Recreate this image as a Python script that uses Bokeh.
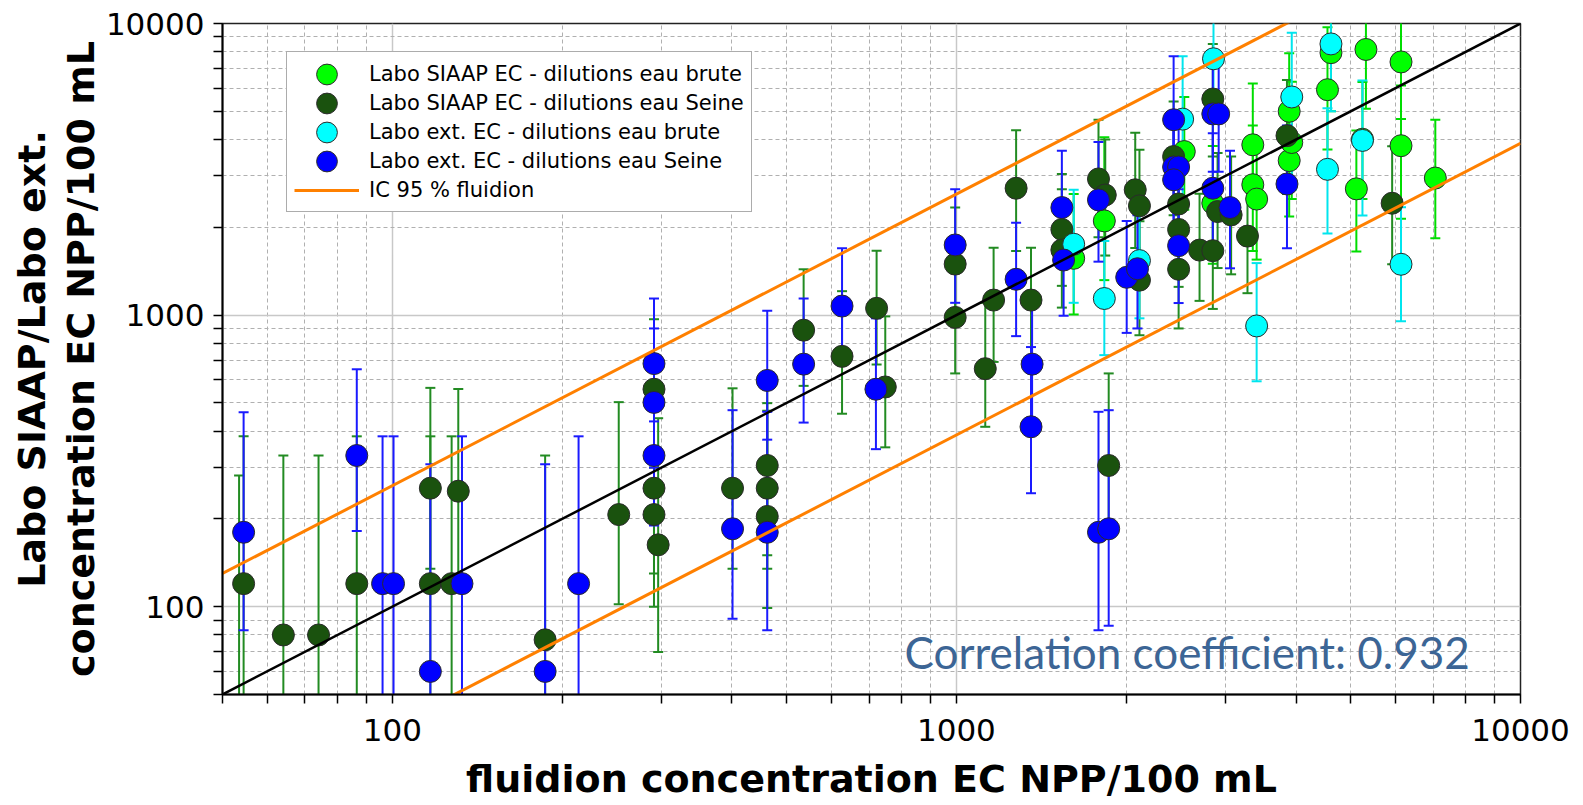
import numpy as np
from bokeh.plotting import figure
from bokeh.models import (ColumnDataSource, Legend, LegendItem, Label, Title,
                          NumeralTickFormatter, FixedTicker)
from bokeh.embed import file_html
from bokeh.resources import INLINE

# ---------------- data ----------------
series_names = [
    "Labo SIAAP EC - dilutions eau brute",
    "Labo SIAAP EC - dilutions eau Seine",
    "Labo ext. EC - dilutions eau brute",
    "Labo ext. EC - dilutions eau Seine",
]
ic_label = "IC 95 % fluidion"
corr_text = "Correlation coefficient: 0.932"
x_title = "fluidion concentration EC NPP/100 mL"
y_title_1 = "Labo SIAAP/Labo ext."
y_title_2 = "concentration EC NPP/100 mL"

# SIAAP - eau brute (light green)
lg_x = [1614, 1829, 2535, 2848, 3353, 3353, 3406, 3890, 3890, 3931, 4613, 4548, 5321, 5117, 5246, 6140, 6140, 7063]
lg_y = [1566, 2104, 3638, 2419, 3837, 2800, 2500, 5000, 3388, 3908, 7943, 5929, 8147, 2710, 4010, 7383, 3810, 2951]
lg_lo = [1005, 1318, 2300, 1500, 2400, 1660, 1550, 3200, 2180, 2500, 5000, 3700, 5100, 1652, 2500, 4700, 2140, 1833]
lg_hi = [2600, 4074, 5600, 3800, 6226, 4467, 3900, 7900, 5300, 6318, 12500, 9700, 13000, 4296, 6300, 11500, 6130, 4677]

# SIAAP - eau Seine (dark green)
dg_x = [53.5, 54.5, 64.1, 74, 86.5, 116.8, 116.8, 130.9, 127.4, 186.6,
        252, 291, 291, 291, 296, 401, 462, 462, 462, 536,
        627, 722, 748, 995, 995, 1125, 1276, 1164, 1356, 1538,
        1538, 1786, 1836, 1862, 2075, 2111, 2111, 2427, 2477, 2477,
        2477, 2698, 2848, 2904, 2848, 3069, 3281, 3855, 5922]
dg_y = [40, 120, 80, 80, 120, 255, 120, 249, 120, 77,
        207, 557, 255, 207, 163, 255, 305, 255, 204, 888,
        722, 1055, 567, 1496, 982, 655, 2723, 1126, 1126, 1967,
        1671, 2931, 2582, 305, 2690, 2370, 1318, 3497, 2405, 1967,
        1436, 1671, 5508, 2265, 1663, 2207, 1866, 4125, 2419]
dg_lo = [15, 25, 20, 20, 25, 135, 25, 115, 25, 20,
         102, 300, 130, 100, 70, 135, 150, 135, 99, 572,
         459, 677, 352, 1000, 631, 414, 1660, 691, 691, 1260,
         1061, 1850, 1600, 173, 1700, 1500, 853, 2200, 1500, 1250,
         900, 1119, 3500, 1450, 1050, 1380, 1189, 2600, 1494]
dg_hi = [282, 384, 330, 330, 384, 563, 384, 558, 384, 330,
         503, 968, 560, 500, 443, 561, 600, 499, 470, 1436,
         1208, 1663, 990, 2338, 1500, 1102, 4305, 1702, 1702, 3048,
         2700, 4677, 4000, 631, 4219, 3690, 2100, 5400, 3800, 3100,
         2300, 2605, 8500, 3600, 2600, 3500, 2924, 6400, 3790]

# ext - eau brute (cyan)
cy_x = [1614, 1829, 2111, 2518, 2856, 3406, 3931, 4613, 4548, 5246, 6140]
cy_y = [1750, 1140, 1538, 4700, 7568, 918, 5598, 8511, 3162, 3972, 1494]
cy_lo = [1102, 729, 975, 2484, 4700, 593, 2692, 5000, 1905, 2197, 953]
cy_hi = [2692, 1795, 2370, 7727, 15000, 1508, 9290, 15000, 5118, 6374, 2345]

# ext - eau Seine (blue)
bl_x = [54.5, 86.5, 96.1, 100.5, 116.8, 132.9, 186.6, 213.9,
        291, 291, 291, 401, 462, 462, 536, 627, 720, 995,
        1276, 1362, 1356, 1538, 1549, 1786, 1786, 1862, 2004, 2094,
        2427, 2427, 2477, 2427, 2477, 2848, 2917, 2848, 3055, 3855]
bl_y = [180, 330, 120, 120, 60, 120, 60, 120,
        682, 502, 330, 185, 597, 180, 679, 1074, 557, 1740,
        1327, 679, 414, 2338, 1545, 2484, 180, 185, 1348, 1442,
        4677, 3221, 3221, 2911, 1730, 4898, 4898, 2723, 2338, 2816]
bl_lo = [83, 182, 25, 25, 15, 25, 15, 25,
         432, 300, 190, 91, 374, 83, 428, 687, 347, 1102,
         847, 428, 245, 1500, 995, 1525, 83, 86, 869, 900,
         2900, 2000, 2000, 1800, 1100, 3100, 3100, 1700, 1447, 1694]
bl_hi = [464, 652, 384, 384, 308, 384, 308, 384,
         1140, 900, 650, 472, 1035, 466, 1140, 1694, 975, 2704,
         2075, 1140, 777, 3661, 2500, 3925, 466, 472, 2104, 2200,
         7727, 5000, 5000, 4500, 2700, 7700, 7700, 4200, 3661, 4467]

# reference line y = x and fluidion 95 % interval
ref_x = [50, 10000]
ref_y = [50, 10000]
ic_x = [50, 10000]
ic_upper = [130, 26000]
ic_lower = [19.4, 3880]

major_ticks = [100, 1000, 10000]
minor_ticks = [50, 60, 70, 80, 90, 200, 300, 400, 500, 600, 700, 800, 900,
               2000, 3000, 4000, 5000, 6000, 7000, 8000, 9000]

# ---------------- figure ----------------
p = figure(x_axis_type="log", y_axis_type="log",
           x_range=(50, 10000), y_range=(50, 10000),
           frame_width=1298, frame_height=671,
           min_border_left=222, min_border_right=50,
           min_border_top=23, min_border_bottom=110,
           output_backend="svg", toolbar_location=None)
p.background_fill_color = "white"
p.border_fill_color = "white"
p.outline_line_color = "#222222"
p.outline_line_width = 1.5

for ax, standoff in ((p.xaxis[0], 15), (p.yaxis[0], 9)):
    ax.ticker = FixedTicker(ticks=major_ticks, minor_ticks=minor_ticks)
    ax.formatter = NumeralTickFormatter(format="0")
    ax.axis_line_color = "black"
    ax.axis_line_width = 2
    ax.major_tick_out = 9
    ax.major_tick_in = 0
    ax.minor_tick_out = 9
    ax.minor_tick_in = 0
    ax.major_tick_line_color = "black"
    ax.minor_tick_line_color = "black"
    ax.major_tick_line_width = 1.5
    ax.minor_tick_line_width = 1.5
    ax.major_label_text_font = "DejaVu Sans"
    ax.major_label_text_font_size = "31px"
    ax.major_label_text_color = "black"
    ax.major_label_standoff = standoff

xa = p.xaxis[0]
xa.axis_label = x_title
xa.axis_label_text_font = "DejaVu Sans"
xa.axis_label_text_font_style = "bold"
xa.axis_label_text_font_size = "38px"
xa.axis_label_text_color = "black"
xa.axis_label_standoff = 13

for g in (p.xgrid[0], p.ygrid[0]):
    g.grid_line_color = "#c8c8c8"
    g.grid_line_width = 1.5
    g.minor_grid_line_color = "#b0b0b0"
    g.minor_grid_line_width = 1
    g.minor_grid_line_dash = "4 3"

series = [
    (lg_x, lg_y, lg_lo, lg_hi, "#00ff00", "#00dd00"),
    (dg_x, dg_y, dg_lo, dg_hi, "#1a520e", "#228b22"),
    (cy_x, cy_y, cy_lo, cy_hi, "#00ffff", "#00e5ee"),
    (bl_x, bl_y, bl_lo, bl_hi, "#0000ff", "#1a1aff"),
]

sources = []
for xs, ys, lo, hi, fc, bc in series:
    src = ColumnDataSource(dict(x=xs, y=ys, lo=lo, hi=hi))
    sources.append(src)
    p.segment(x0="x", y0="lo", x1="x", y1="hi", source=src,
              line_color=bc, line_width=2)
    p.scatter(x="x", y="hi", marker="dash", size=10, source=src,
              line_color=bc, line_width=2)
    p.scatter(x="x", y="lo", marker="dash", size=10, source=src,
              line_color=bc, line_width=2)

marker_renderers = []
for src, (xs, ys, lo, hi, fc, bc) in zip(sources, series):
    r = p.ellipse(x="x", y="y", width=22, height=22,
                  width_units="screen", height_units="screen",
                  source=src, fill_color=fc, line_color="#2b2b2b", line_width=1)
    marker_renderers.append(r)

p.line(ref_x, ref_y, line_color="black", line_width=2.5)
ic_r = p.multi_line(xs=[ic_x, ic_x], ys=[ic_upper, ic_lower],
                    line_color="#ff8000", line_width=3)

items = [LegendItem(label=n, renderers=[r]) for n, r in zip(series_names, marker_renderers)]
items.append(LegendItem(label=ic_label, renderers=[ic_r]))
legend = Legend(items=items, location=(64, 482), orientation="vertical",
                glyph_width=65, glyph_height=26, label_height=29,
                label_standoff=10, padding=7, spacing=0, margin=0,
                border_line_color="#5a5a5a", border_line_width=1.5,
                background_fill_color="white", background_fill_alpha=1.0,
                label_text_font="DejaVu Sans", label_text_font_size="21px",
                label_text_color="black")
p.add_layout(legend)

p.add_layout(Label(x=682, y=43, x_units="screen", y_units="screen",
                   text=corr_text, text_font="Lato", text_font_size="44px",
                   text_color="#3c6595", text_align="left",
                   text_baseline="alphabetic"))

# y-axis title on two lines (inner line first, next to the axis)
for txt, so in ((y_title_2, 0), (y_title_1, 5)):
    p.add_layout(Title(text=txt, align="center", text_font="DejaVu Sans",
                       text_font_style="bold", text_font_size="38px",
                       text_color="black", standoff=so, offset=0), "left")

open("out.html", "w").write(file_html(p, INLINE))
